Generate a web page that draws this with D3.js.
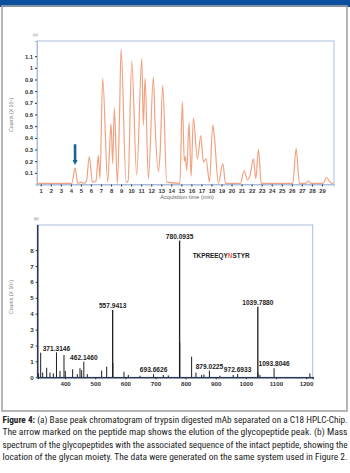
<!DOCTYPE html>
<html>
<head>
<meta charset="utf-8">
<script src="https://cdn.jsdelivr.net/npm/d3@7"></script>
<style>
  html, body { margin: 0; padding: 0; background: #fff; }
  svg { display: block; }
</style>
</head>
<body>
<svg id="fig" width="350" height="473"></svg>
<script>
// (a) Base peak chromatogram: acquisition time (min) and counts (x10^7)
const acqTime = [0.6, 4.1, 4.42, 4.7, 5.0, 5.3, 5.55, 5.84, 6.15, 6.5, 6.74, 6.9, 7.17, 7.67, 8.0, 8.17, 8.33, 8.63, 8.85, 9.0, 9.5, 9.7,
  10.06, 10.56, 11.06, 11.22, 11.39, 11.72, 12.22, 12.39, 12.72, 12.88, 13.15, 13.55, 14.85, 15.1, 15.3, 15.4, 15.54, 15.77, 15.97,
  16.2, 16.6, 16.94, 17.2, 17.46, 17.8, 18.13, 18.29, 18.69, 19.13, 19.4, 20.0, 20.9, 21.25, 21.58, 21.85, 22.18, 22.41, 22.68, 22.95,
  26.1, 26.43, 26.76, 27.4, 27.65, 27.9, 29.1, 29.48, 29.8, 30.1];
const counts = [0.01, 0.01, 0.14, 0.01, 0.02, 0.01, 0.03, 0.24, 0.02, 0.03, 0.25, 0.05, 0.91, 0.02, 0.52, 0.18, 0.66, 0.01, 0.6, 1.16, 0.02, 0.03,
  1.06, 0.08, 1.08, 0.51, 0.91, 0.05, 0.92, 0.51, 0.11, 0.26, 0.85, 0.02, 0.01, 0.71, 0.2, 0.24, 0.12, 0.53, 0.07,
  0.57, 0.22, 0.42, 0.19, 0.22, 0.02, 0.51, 0.41, 0.01, 0.18, 0.01, 0.01, 0.01, 0.12, 0.04, 0.08, 0.22, 0.05, 0.3, 0.01,
  0.01, 0.31, 0.01, 0.01, 0.03, 0.01, 0.01, 0.06, 0.02, 0.01];
const timeTicks = d3.range(1, 30);
const countTicks = [0.1, 0.2, 0.3, 0.4, 0.5, 0.6, 0.7, 0.8, 0.9, 1.0, 1.1];
const glycoElutionTime = 4.42;

// (b) Mass spectrum: m/z and counts (x10^6)
const mz = [312, 318.9, 325.5, 338.8, 349.8, 360.9, 371.3146, 383, 396.3, 400.7, 425, 440.5, 449.4, 454.9, 462.146, 473.7,
  521.3, 538, 557.9413, 558.44, 595.4, 609.8, 648.5, 693.6626, 726, 742.6, 780.0935, 780.59, 820, 834.4, 853.2, 860.9, 879.0225,
  914, 958, 972.6933, 1039.788, 1040.12, 1046.8, 1093.8046, 1212.7];
const intensity = [0.25, 1.55, 0.3, 0.6, 0.3, 0.25, 1.57, 0.4, 1.4, 0.4, 0.5, 0.2, 0.57, 0.45, 0.98, 0.2,
  0.42, 0.67, 4.23, 0.9, 0.35, 0.15, 0.1, 0.2, 0.15, 0.12, 8.6, 2.2, 1.3, 0.3, 0.15, 0.18, 0.42,
  0.1, 0.15, 0.2, 4.44, 0.3, 0.15, 0.57, 0.25];
const labelledPeaks = ["371.3146", "462.1460", "557.9413", "693.6626", "780.0935", "879.0225", "972.6933", "1039.7880", "1093.8046"];
const mzTicks = [400, 500, 600, 700, 800, 900, 1000, 1100, 1200];
const intensityTicks = [0, 1, 2, 3, 4, 5, 6, 7, 8];
const peptideSequence = ["TKPREEQY", "N", "STYR"];

const captionLines = [
  [["Figure 4:", true], [" (a) Base peak chromatogram of trypsin digested mAb separated on a C18 HPLC-Chip.", false]],
  [["The arrow marked on the peptide map shows the elution of the glycopeptide peak. (b) Mass", false]],
  [["spectrum of the glycopeptides with the associated sequence of the intact peptide, showing the", false]],
  [["location of the glycan moiety. The data were generated on the same system used in Figure 2.", false]]
];

const svg = d3.select("#fig");
const tickFont = "'Liberation Sans', Arial, sans-serif";

// page furniture: header bar and panel frame
svg.append("rect").attr("x", 0).attr("y", 0).attr("width", 350).attr("height", 7).attr("fill", "#0b4f9e");
svg.append("rect").attr("x", 2).attr("y", 6).attr("width", 345).attr("height", 405)
  .attr("fill", "none").attr("stroke", "#a3a3a3").attr("stroke-width", 1.6);

// ---------- (a) chromatogram ----------
const xa = d3.scaleLinear().domain([0.63, 30.2]).range([37, 334]);
const ya = d3.scaleLinear().domain([0, 1.23]).range([184.5, 41]);

svg.append("text").attr("x", 33).attr("y", 36).attr("font-size", 4).attr("fill", "#777")
  .attr("font-family", tickFont).text("(a)");

svg.append("rect").attr("x", 37).attr("y", 41).attr("width", 297).attr("height", 143.5)
  .attr("fill", "none").attr("stroke", "#a9bedb").attr("stroke-width", 1);

const axA = svg.append("g").attr("transform", "translate(0,184.5)")
  .call(d3.axisBottom(xa).tickValues(timeTicks).tickSize(2).tickPadding(2).tickFormat(d3.format("d")));
const ayA = svg.append("g").attr("transform", "translate(37,0)")
  .call(d3.axisLeft(ya).tickValues(countTicks).tickSize(2).tickPadding(2).tickFormat(d => d3.format("")(+d.toFixed(1))));
[axA, ayA].forEach(g => {
  g.select(".domain").attr("stroke", "#a9bedb");
  g.selectAll(".tick line").attr("stroke", "#333");
  g.selectAll(".tick text").attr("font-size", 5.8).attr("font-weight", "bold")
    .attr("font-family", tickFont).attr("fill", "#333");
});

svg.append("text").attr("x", 187).attr("y", 199).attr("text-anchor", "middle")
  .attr("font-size", 5.6).attr("font-family", tickFont).attr("fill", "#666").text("Acquisition time (min)");
svg.append("text").attr("transform", "translate(12.5,115) rotate(-90)").attr("text-anchor", "middle")
  .attr("font-size", 5.2).attr("font-family", tickFont).attr("fill", "#777")
  .text("Counts (X 10\u2077)");

const chrom = acqTime.map((t, i) => [t, counts[i]]);
svg.append("path").datum(chrom)
  .attr("d", d3.line().x(d => xa(d[0])).y(d => ya(d[1])).curve(d3.curveMonotoneX))
  .attr("fill", "none").attr("stroke", "#f2a282").attr("stroke-width", 1.2);

// arrow marking the glycopeptide elution
const defs = svg.append("defs");
defs.append("marker").attr("id", "head").attr("viewBox", "0 0 10 10").attr("refX", 5).attr("refY", 5)
  .attr("markerWidth", 2).attr("markerHeight", 2).attr("orient", "auto")
  .append("path").attr("d", "M0,0L10,5L0,10z").attr("fill", "#1d6391");
svg.append("line").attr("x1", xa(glycoElutionTime)).attr("x2", xa(glycoElutionTime))
  .attr("y1", ya(0.345)).attr("y2", ya(0.19))
  .attr("stroke", "#1d6391").attr("stroke-width", 2.6).attr("marker-end", "url(#head)");

// ---------- (b) mass spectrum ----------
const xb = d3.scaleLinear().domain([309, 1222]).range([37.7, 312.7]);
const yb = d3.scaleLinear().domain([0, 9.58]).range([377.3, 225]);

svg.append("text").attr("x", 34).attr("y", 220).attr("font-size", 4).attr("fill", "#777")
  .attr("font-family", tickFont).text("(b)");

svg.append("rect").attr("x", 37.7).attr("y", 225).attr("width", 275).attr("height", 152.3)
  .attr("fill", "none").attr("stroke", "#a9bedb").attr("stroke-width", 1);

svg.selectAll("line.peak").data(mz).enter().append("line").attr("class", "peak")
  .attr("x1", d => xb(d)).attr("x2", d => xb(d))
  .attr("y1", yb(0)).attr("y2", (d, i) => yb(intensity[i]))
  .attr("stroke", "#1e1e1e").attr("stroke-width", (d, i) => intensity[i] > 3 ? 1.3 : 1);

const axB = svg.append("g").attr("transform", "translate(0,377.3)")
  .call(d3.axisBottom(xb).tickValues(mzTicks).tickSize(2).tickPadding(2).tickFormat(d3.format("d")));
const ayB = svg.append("g").attr("transform", "translate(37.7,0)")
  .call(d3.axisLeft(yb).tickValues(intensityTicks).tickSize(2).tickPadding(2).tickFormat(d3.format("d")));
[axB, ayB].forEach(g => {
  g.select(".domain").attr("stroke", "#27375a").attr("stroke-width", 1.4);
  g.selectAll(".tick line").attr("stroke", "#333");
  g.selectAll(".tick text").attr("font-size", 6.2).attr("font-weight", "bold")
    .attr("font-family", tickFont).attr("fill", "#333");
});
ayB.select(".domain").attr("d", `M0,${yb(0)}V${yb.range()[1]}`).attr("stroke-width", 1.6);

svg.append("text").attr("transform", "translate(12.5,297) rotate(-90)").attr("text-anchor", "middle")
  .attr("font-size", 5.2).attr("font-family", tickFont).attr("fill", "#777")
  .text("Counts (X 10\u2076)");

// m/z annotations above the labelled peaks
svg.selectAll("text.mzlab").data(labelledPeaks).enter().append("text").attr("class", "mzlab")
  .attr("x", d => xb(+d)).attr("y", d => {
    const i = d3.minIndex(mz, m => Math.abs(m - +d));
    return yb(intensity[i]) - 1.8;
  })
  .attr("text-anchor", "middle").attr("font-size", 6.6).attr("font-weight", "bold")
  .attr("font-family", tickFont).attr("fill", "#222").text(d => d);

// peptide sequence, glycosylated asparagine highlighted; pieces laid end to end
let seqX = 192.7;
peptideSequence.forEach((s, i) => {
  const t = svg.append("text").attr("x", seqX).attr("y", 258).attr("font-size", 6.4).attr("font-weight", "bold")
    .attr("font-family", tickFont).attr("fill", i === 1 ? "#e8614a" : "#222").text(s);
  seqX += t.node().getComputedTextLength();
});

// ---------- caption ----------
const cap = svg.append("g").attr("font-family", "'Liberation Sans Narrow', 'Roboto Condensed', 'Noto Sans', sans-serif")
  .attr("font-size", 8.8).attr("fill", "#222");
captionLines.forEach((parts, li) => {
  const t = cap.append("text").attr("x", 2.5).attr("y", 423 + li * 12.4)
    .attr("textLength", 345).attr("lengthAdjust", "spacingAndGlyphs");
  parts.forEach(([s, bold]) => t.append("tspan").attr("font-weight", bold ? "bold" : "normal").text(s));
});
</script>
</body>
</html>
